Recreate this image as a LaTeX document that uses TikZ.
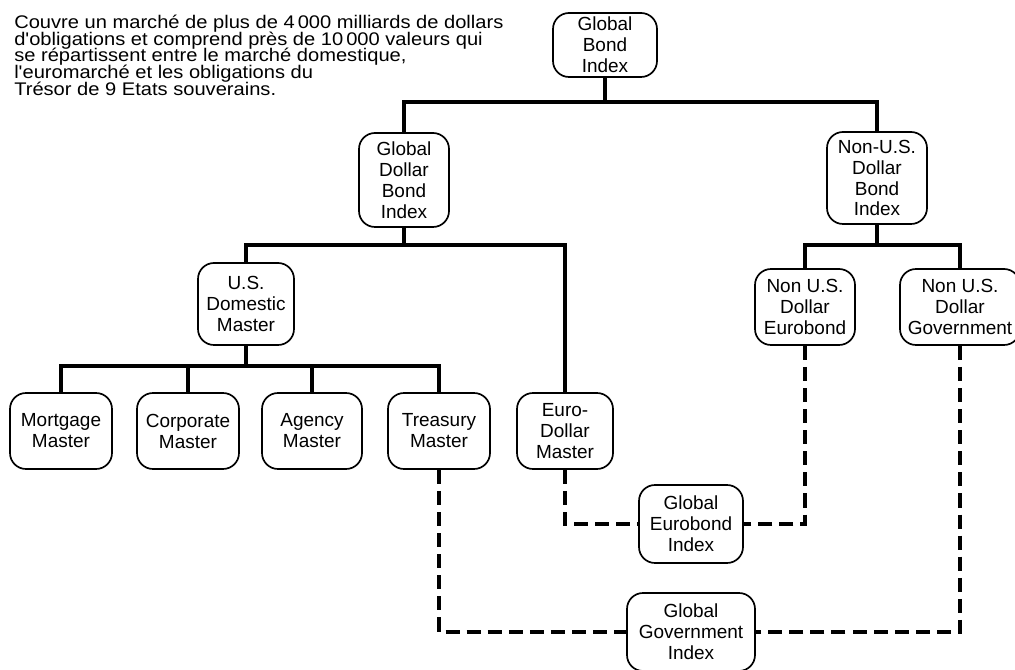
\documentclass[tikz,border=0pt]{standalone}
\usepackage{fontspec}
\setmainfont{Liberation Sans}
\newfontfamily\notefamily[FakeStretch=1.1]{Liberation Sans}
\usetikzlibrary{positioning}
\newcommand\notefont{\notefamily\fontsize{13}{11.8}\selectfont\setlength{\lineskiplimit}{-20pt}}
\newcommand\idxfont{\fontsize{13.5}{14.9}\selectfont\setlength{\lineskiplimit}{-20pt}}

\begin{document}
\begin{tikzpicture}[x=0.25mm,y=-0.25mm,
  idx/.style={draw,line width=1.2pt,rounded corners=4mm,inner sep=0pt,
    align=center,font=\idxfont},
  bus/.style={line width=3pt},
  feed/.style={line width=3pt,dash pattern=on 10pt off 5pt}]
  \useasboundingbox (0,0) rectangle (1015,670);
  \node[anchor=north west,inner sep=0pt,align=left,font=\notefont] (note) at (14,15)
    {Couvre un marché de plus de 4\,000 milliards de dollars\\
     d'obligations et comprend près de 10\,000 valeurs qui\\
     se répartissent entre le marché domestique,\\
     l'euromarché et les obligations du\\
     Trésor de 9 Etats souverains.};
  \node[idx,minimum width=2.6cm,minimum height=1.6cm] (gbi) at (605,45) {Global\\Bond\\Index};
  \node[idx,minimum width=2.25cm,minimum height=2.35cm] (gdbi) at (404,180) {Global\\Dollar\\Bond\\Index};
  \node[idx,minimum width=2.5cm,minimum height=2.3cm] (nbi) at (877,178) {Non-U.S.\\Dollar\\Bond\\Index};
  \node[idx,minimum width=2.4cm,minimum height=2.05cm] (usdm) at (246,304) {U.S.\\Domestic\\Master};
  \node[idx,minimum width=2.55cm,minimum height=1.9cm] (mort) at (61,431) {Mortgage\\Master};
  \node[idx,minimum width=2.55cm,minimum height=1.9cm] (corp) at (188,431) {Corporate\\Master};
  \node[idx,minimum width=2.5cm,minimum height=1.9cm] (agen) at (312,431) {Agency\\Master};
  \node[idx,minimum width=2.55cm,minimum height=1.9cm] (trea) at (439,431) {Treasury\\Master};
  \node[idx,minimum width=2.4cm,minimum height=1.9cm] (euro) at (565,431) {Euro-\\Dollar\\Master};
  \node[idx,minimum width=2.5cm,minimum height=1.9cm] (nue) at (805,307) {Non U.S.\\Dollar\\Eurobond};
  \node[idx,minimum width=3cm,minimum height=1.9cm] (nug) at (960,307) {Non U.S.\\Dollar\\Government};
  \node[idx,minimum width=2.6cm,minimum height=1.95cm] (geb) at (691,524) {Global\\Eurobond\\Index};
  \node[idx,minimum width=3.2cm,minimum height=1.95cm] (ggi) at (691,632) {Global\\Government\\Index};
  \coordinate (top) at (0,102);
  \coordinate (mid) at (0,245);
  \coordinate (low) at (0,366);
  \draw[bus] (gbi.south) -- (gbi.south |- top);
  \draw[bus] (gdbi.north) |- (nbi.north |- top) -- (nbi.north);
  \draw[bus] (gdbi.south) -- (gdbi.south |- mid);
  \draw[bus] (usdm.north) |- (euro.north |- mid) -- (euro.north);
  \draw[bus] (usdm.south) -- (usdm.south |- low);
  \draw[bus] (mort.north) |- (trea.north |- low) -- (trea.north);
  \draw[bus] (corp.north) -- (corp.north |- low);
  \draw[bus] (agen.north) -- (agen.north |- low);
  \draw[bus] (nbi.south) -- (nbi.south |- mid);
  \draw[bus] (nue.north) |- (nug.north |- mid) -- (nug.north);
  \draw[feed] (euro.south) |- (geb.west);
  \draw[feed] (nue.south) |- (geb.east);
  \draw[feed] (trea.south) |- (ggi.west);
  \draw[feed] (nug.south) |- (ggi.east);
\end{tikzpicture}
\end{document}
